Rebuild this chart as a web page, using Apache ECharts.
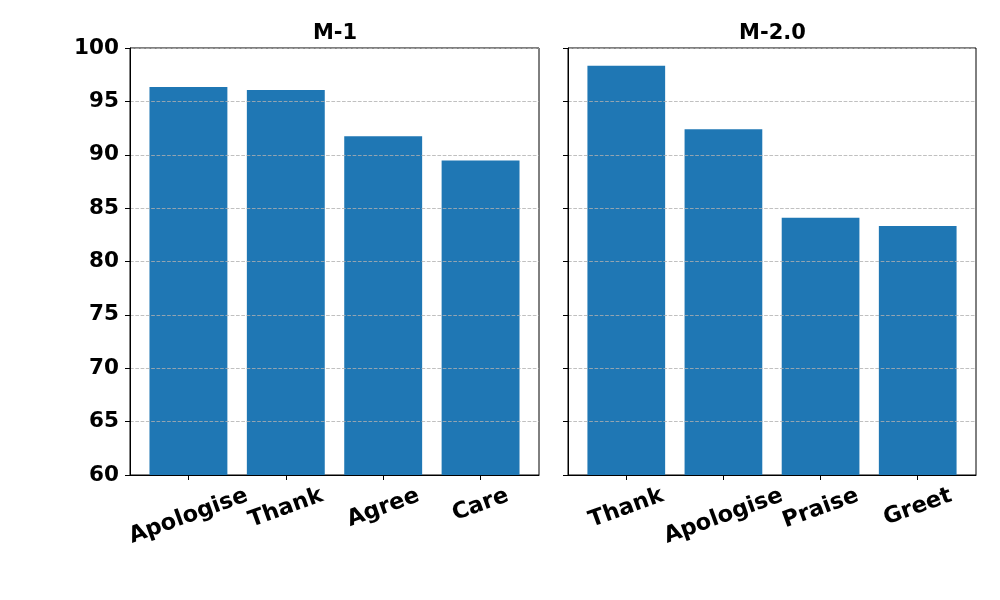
<!DOCTYPE html>
<html>
<head>
<meta charset="utf-8">
<script src="https://cdn.jsdelivr.net/npm/echarts@6/dist/echarts.min.js"></script>
<style>html,body{margin:0;padding:0;background:#fff}#c{width:1000px;height:600px}</style>
</head>
<body>
<div id="c"></div>
<script>
const titles = ['M-1', 'M-2.0'];
const catsM1 = ['Apologise', 'Thank', 'Agree', 'Care'];
const valsM1 = [96.35, 96.07, 91.73, 89.46];
const catsM2 = ['Thank', 'Apologise', 'Praise', 'Greet'];
const valsM2 = [98.33, 92.39, 84.09, 83.33];
const yTicks = [60, 65, 70, 75, 80, 85, 90, 95, 100];

const FONT = 'DejaVu Sans';
const XFS = 22.5;
const ROT = 20 * Math.PI / 180;
const grids = [
  {left: 130, top: 48, width: 409, height: 427},
  {left: 568, top: 48, width: 408, height: 427}
];
const catsList = [catsM1, catsM2];
const valsList = [valsM1, valsM2];

// measure label widths to emulate matplotlib's "rotate then align top-center"
const ctx = document.createElement('canvas').getContext('2d');
ctx.font = 'bold ' + XFS + 'px "' + FONT + '"';
function richFor(cats) {
  const rich = {};
  cats.forEach((c, k) => {
    const w = ctx.measureText(c).width;
    const D = w * Math.sin(ROT) / 2;
    rich['l' + k] = {
      fontFamily: FONT, fontSize: XFS, fontWeight: 'bold', color: '#000',
      padding: [2 * D * Math.cos(ROT), 2 * D * Math.sin(ROT), 0, 0]
    };
  });
  return rich;
}

const chart = echarts.init(document.getElementById('c'), null, {renderer: 'canvas'});
const option = {
  backgroundColor: '#fff',
  animation: false,
  title: titles.map((t, i) => ({
    text: t,
    left: grids[i].left + grids[i].width / 2 - 4.5,
    textAlign: 'center',
    top: 18,
    textStyle: {fontFamily: FONT, fontSize: 21, fontWeight: 'bold', color: '#000'}
  })),
  grid: grids.map(g => Object.assign({show: true, borderColor: '#000', borderWidth: 1, backgroundColor: 'transparent'}, g)),
  xAxis: catsList.map((cats, i) => ({
    type: 'value', gridIndex: i, min: -0.6, max: 3.6, z: 3,
    axisLine: {show: true, onZero: false, lineStyle: {color: '#000', width: 1}},
    axisTick: {show: true, customValues: cats.map((c, k) => k), length: 5, lineStyle: {color: '#000'}},
    axisLabel: {
      show: true, customValues: cats.map((c, k) => k),
      formatter: v => { const k = Math.round(v); return '{l' + k + '|' + cats[k] + '}'; },
      rich: richFor(cats),
      rotate: 20, align: 'center', verticalAlign: 'middle', margin: 20,
      fontFamily: FONT, fontSize: XFS, fontWeight: 'bold', color: '#000'
    },
    splitLine: {show: false}
  })),
  yAxis: [0, 1].map(i => ({
    type: 'value', gridIndex: i, min: yTicks[0], max: yTicks[yTicks.length - 1], interval: 5, z: 3,
    axisLine: {show: true, onZero: false, lineStyle: {color: '#000', width: 1}},
    axisTick: {show: true, length: 5, lineStyle: {color: '#000'}},
    axisLabel: {show: i === 0, margin: 11, fontFamily: FONT, fontSize: 21.5, fontWeight: 'bold', color: '#000'},
    splitLine: {show: true, lineStyle: {color: '#b0b0b0', type: [3.7, 1.6], width: 0.8}}
  })),
  series: valsList.map((vals, i) => ({
    type: 'bar', xAxisIndex: i, yAxisIndex: i,
    barWidth: 0.8 * grids[i].width / 4.2,
    itemStyle: {color: '#1f77b4'},
    data: vals.map((v, k) => [k, v]),
    z: 2
  }))
};
chart.setOption(option);
</script>
</body>
</html>
